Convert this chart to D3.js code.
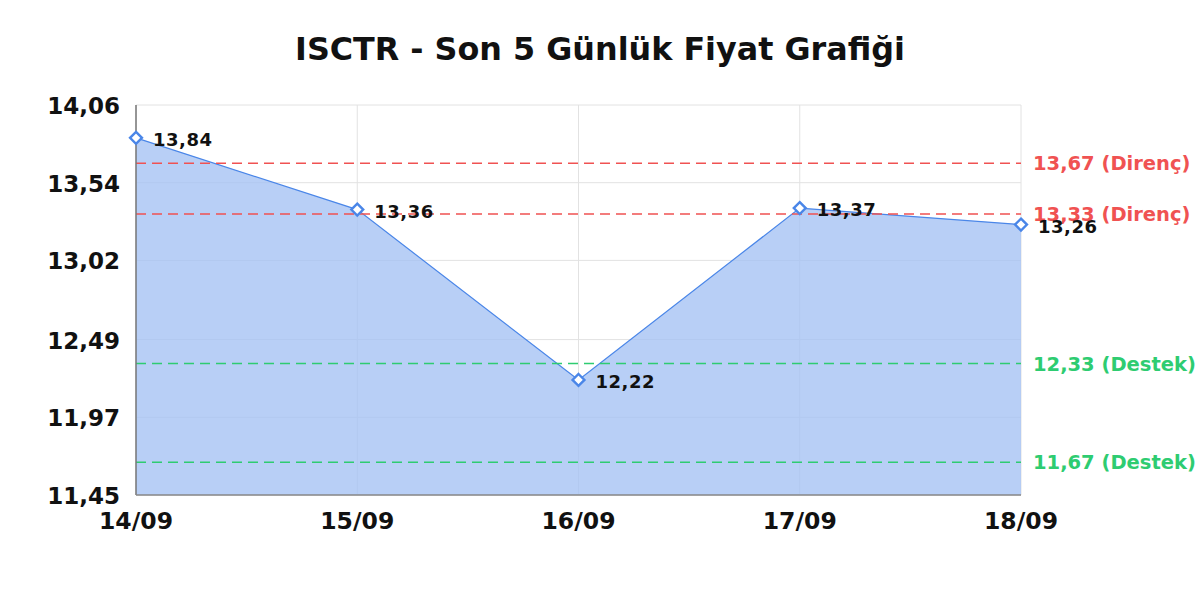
<!DOCTYPE html>
<html>
<head>
<meta charset="utf-8">
<script src="https://cdn.jsdelivr.net/npm/d3@7"></script>
<style>
  body { margin: 0; background: #fff; }
  svg text { font-family: "DejaVu Sans", sans-serif; font-weight: bold; }
</style>
</head>
<body>
<div id="canvas"></div>
<script>
// data
var days = ["14/09", "15/09", "16/09", "17/09", "18/09"];
var prices = [13.84, 13.36, 12.22, 13.37, 13.26];
var yTicks = [14.06, 13.54, 13.02, 12.49, 11.97, 11.45];
var resistance = [13.67, 13.33];
var support = [12.33, 11.67];

var W = 1200, H = 600;
var plotL = 136, plotR = 1021, plotT = 105, plotB = 495;

var svg = d3.select("#canvas").append("svg")
  .attr("width", W)
  .attr("height", H);

var x = d3.scalePoint().domain(days).range([plotL, plotR]);
var y = d3.scaleLinear().domain([11.45, 14.06]).range([plotB, plotT]);
var fmt = function(v){ return d3.format(".2f")(v).replace(".", ","); };

// title
svg.append("text")
  .attr("x", W / 2).attr("y", 60)
  .attr("text-anchor", "middle")
  .attr("font-size", "31.8px")
  .attr("fill", "#111")
  .text("ISCTR - Son 5 Günlük Fiyat Grafiği");

// grid
svg.append("g").selectAll("line").data(yTicks).enter().append("line")
  .attr("x1", plotL).attr("x2", plotR)
  .attr("y1", function(d){ return y(d); }).attr("y2", function(d){ return y(d); })
  .attr("stroke", "#e2e2e2").attr("stroke-width", 1);
svg.append("g").selectAll("line").data(days).enter().append("line")
  .attr("x1", function(d){ return x(d); }).attr("x2", function(d){ return x(d); })
  .attr("y1", plotT).attr("y2", plotB)
  .attr("stroke", "#e2e2e2").attr("stroke-width", 1);

// area + line
var pts = days.map(function(d, i){ return [d, prices[i]]; });
svg.append("path")
  .datum(pts)
  .attr("fill", "#a4c2f4").attr("fill-opacity", 0.78)
  .attr("d", d3.area().x(function(d){ return x(d[0]); }).y0(plotB).y1(function(d){ return y(d[1]); }));
svg.append("path")
  .datum(pts)
  .attr("fill", "none").attr("stroke", "#4a86e8").attr("stroke-width", 1.2)
  .attr("d", d3.line().x(function(d){ return x(d[0]); }).y(function(d){ return y(d[1]); }));

// level lines
function level(vals, color, name){
  var g = svg.append("g");
  g.selectAll("line").data(vals).enter().append("line")
    .attr("x1", plotL).attr("x2", plotR)
    .attr("y1", function(d){ return y(d); }).attr("y2", function(d){ return y(d); })
    .attr("stroke", color).attr("stroke-width", 1.5)
    .attr("stroke-dasharray", "10,6");
  g.selectAll("text").data(vals).enter().append("text")
    .attr("x", plotR + 12).attr("y", function(d){ return y(d) + 7; })
    .attr("font-size", "19.5px").attr("fill", color)
    .text(function(d){ return fmt(d) + " (" + name + ")"; });
}
level(resistance, "#f05252", "Direnç");
level(support, "#2ecc71", "Destek");

// axes lines
svg.append("line").attr("x1", plotL).attr("x2", plotL).attr("y1", plotT).attr("y2", plotB)
  .attr("stroke", "#777").attr("stroke-width", 1.5);
svg.append("line").attr("x1", plotL).attr("x2", plotR).attr("y1", plotB).attr("y2", plotB)
  .attr("stroke", "#888").attr("stroke-width", 1.5);

// y labels
svg.append("g").selectAll("text").data(yTicks).enter().append("text")
  .attr("x", 120).attr("y", function(d){ return y(d) + 9; })
  .attr("text-anchor", "end").attr("font-size", "23px").attr("fill", "#111")
  .text(fmt);

// x labels
svg.append("g").selectAll("text").data(days).enter().append("text")
  .attr("x", function(d){ return x(d); }).attr("y", 529)
  .attr("text-anchor", "middle").attr("font-size", "23.5px").attr("fill", "#111")
  .text(function(d){ return d; });

// markers
svg.append("g").selectAll("path").data(pts).enter().append("path")
  .attr("transform", function(d){ return "translate(" + x(d[0]) + "," + y(d[1]) + ")"; })
  .attr("d", d3.symbol().type(d3.symbolDiamond2).size(90))
  .attr("fill", "#fff").attr("stroke", "#4a86e8").attr("stroke-width", 2.4);

// point labels
svg.append("g").selectAll("text").data(pts).enter().append("text")
  .attr("x", function(d){ return x(d[0]) + 17; }).attr("y", function(d){ return y(d[1]) + 8; })
  .attr("font-size", "18px").attr("fill", "#111").attr("letter-spacing", "0.5px")
  .text(function(d){ return fmt(d[1]); });
</script>
</body>
</html>
